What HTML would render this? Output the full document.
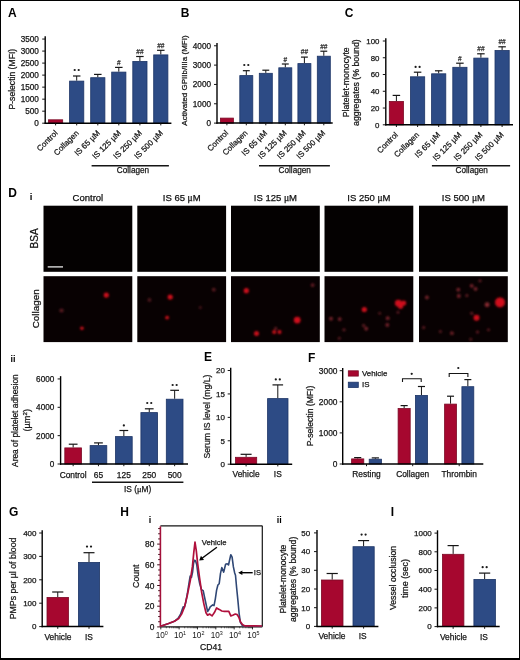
<!DOCTYPE html>
<html><head><meta charset="utf-8"><style>
html,body{margin:0;padding:0;background:#fff;}
svg{display:block;font-family:"Liberation Sans", sans-serif;}
</style></head><body>
<svg width="520" height="660" viewBox="0 0 520 660"><g opacity="0.999">
<text x="8.00" y="17.20" font-size="12" text-anchor="start" font-weight="bold" fill="#000">A</text>
<text x="180.80" y="17.20" font-size="12" text-anchor="start" font-weight="bold" fill="#000">B</text>
<text x="344.80" y="17.20" font-size="12" text-anchor="start" font-weight="bold" fill="#000">C</text>
<line x1="45.20" y1="36.26" x2="45.20" y2="123.90" stroke="#000" stroke-width="1.4"/>
<line x1="42.20" y1="123.20" x2="45.20" y2="123.20" stroke="#151515" stroke-width="1.0"/>
<text x="38.90" y="126.15" font-size="8.2" text-anchor="end" font-weight="normal" fill="#151515" stroke="#151515" stroke-width="0.25">0</text>
<line x1="42.20" y1="111.18" x2="45.20" y2="111.18" stroke="#151515" stroke-width="1.0"/>
<text x="38.90" y="114.13" font-size="8.2" text-anchor="end" font-weight="normal" fill="#151515" stroke="#151515" stroke-width="0.25">500</text>
<line x1="42.20" y1="99.16" x2="45.20" y2="99.16" stroke="#151515" stroke-width="1.0"/>
<text x="38.90" y="102.11" font-size="8.2" text-anchor="end" font-weight="normal" fill="#151515" stroke="#151515" stroke-width="0.25">1000</text>
<line x1="42.20" y1="87.14" x2="45.20" y2="87.14" stroke="#151515" stroke-width="1.0"/>
<text x="38.90" y="90.09" font-size="8.2" text-anchor="end" font-weight="normal" fill="#151515" stroke="#151515" stroke-width="0.25">1500</text>
<line x1="42.20" y1="75.12" x2="45.20" y2="75.12" stroke="#151515" stroke-width="1.0"/>
<text x="38.90" y="78.07" font-size="8.2" text-anchor="end" font-weight="normal" fill="#151515" stroke="#151515" stroke-width="0.25">2000</text>
<line x1="42.20" y1="63.10" x2="45.20" y2="63.10" stroke="#151515" stroke-width="1.0"/>
<text x="38.90" y="66.05" font-size="8.2" text-anchor="end" font-weight="normal" fill="#151515" stroke="#151515" stroke-width="0.25">2500</text>
<line x1="42.20" y1="51.08" x2="45.20" y2="51.08" stroke="#151515" stroke-width="1.0"/>
<text x="38.90" y="54.03" font-size="8.2" text-anchor="end" font-weight="normal" fill="#151515" stroke="#151515" stroke-width="0.25">3000</text>
<line x1="42.20" y1="39.06" x2="45.20" y2="39.06" stroke="#151515" stroke-width="1.0"/>
<text x="38.90" y="42.01" font-size="8.2" text-anchor="end" font-weight="normal" fill="#151515" stroke="#151515" stroke-width="0.25">3500</text>
<rect x="48.50" y="119.80" width="14.20" height="3.40" fill="#a6072f" stroke="#7c0a26" stroke-width="0.8"/>
<line x1="76.70" y1="80.70" x2="76.70" y2="76.00" stroke="#151515" stroke-width="1.0"/>
<line x1="72.95" y1="76.00" x2="80.45" y2="76.00" stroke="#151515" stroke-width="1.2"/>
<rect x="69.60" y="81.10" width="14.20" height="42.10" fill="#2d4b85" stroke="#1d3566" stroke-width="0.8"/>
<line x1="97.80" y1="77.30" x2="97.80" y2="74.40" stroke="#151515" stroke-width="1.0"/>
<line x1="94.05" y1="74.40" x2="101.55" y2="74.40" stroke="#151515" stroke-width="1.2"/>
<rect x="90.70" y="77.70" width="14.20" height="45.50" fill="#2d4b85" stroke="#1d3566" stroke-width="0.8"/>
<line x1="118.80" y1="71.70" x2="118.80" y2="67.40" stroke="#151515" stroke-width="1.0"/>
<line x1="115.05" y1="67.40" x2="122.55" y2="67.40" stroke="#151515" stroke-width="1.2"/>
<rect x="111.70" y="72.10" width="14.20" height="51.10" fill="#2d4b85" stroke="#1d3566" stroke-width="0.8"/>
<line x1="139.90" y1="61.00" x2="139.90" y2="56.50" stroke="#151515" stroke-width="1.0"/>
<line x1="136.15" y1="56.50" x2="143.65" y2="56.50" stroke="#151515" stroke-width="1.2"/>
<rect x="132.80" y="61.40" width="14.20" height="61.80" fill="#2d4b85" stroke="#1d3566" stroke-width="0.8"/>
<line x1="160.80" y1="54.50" x2="160.80" y2="50.30" stroke="#151515" stroke-width="1.0"/>
<line x1="157.05" y1="50.30" x2="164.55" y2="50.30" stroke="#151515" stroke-width="1.2"/>
<rect x="153.70" y="54.90" width="14.20" height="68.30" fill="#2d4b85" stroke="#1d3566" stroke-width="0.8"/>
<line x1="44.60" y1="123.20" x2="171.40" y2="123.20" stroke="#000" stroke-width="1.5"/>
<line x1="55.60" y1="123.20" x2="55.60" y2="125.40" stroke="#151515" stroke-width="1.0"/>
<line x1="76.70" y1="123.20" x2="76.70" y2="125.40" stroke="#151515" stroke-width="1.0"/>
<line x1="97.80" y1="123.20" x2="97.80" y2="125.40" stroke="#151515" stroke-width="1.0"/>
<line x1="118.80" y1="123.20" x2="118.80" y2="125.40" stroke="#151515" stroke-width="1.0"/>
<line x1="139.90" y1="123.20" x2="139.90" y2="125.40" stroke="#151515" stroke-width="1.0"/>
<line x1="160.80" y1="123.20" x2="160.80" y2="125.40" stroke="#151515" stroke-width="1.0"/>
<circle cx="74.70" cy="70.00" r="1.12" fill="#1a1a1a"/>
<circle cx="78.70" cy="70.00" r="1.12" fill="#1a1a1a"/>
<text x="118.80" y="65.48" font-size="6.5" text-anchor="middle" font-weight="normal" fill="#333" stroke="#333" stroke-width="0.25">#</text>
<text x="139.90" y="54.27" font-size="6.5" text-anchor="middle" font-weight="normal" fill="#333" stroke="#333" stroke-width="0.25">##</text>
<text x="160.80" y="47.98" font-size="6.5" text-anchor="middle" font-weight="normal" fill="#333" stroke="#333" stroke-width="0.25">##</text>
<text x="0.00" y="0.00" font-size="8.0" text-anchor="end" font-weight="normal" fill="#151515" stroke="#151515" stroke-width="0.25" transform="translate(58.20,133.60) rotate(-45)">Control</text>
<text x="0.00" y="0.00" font-size="8.0" text-anchor="end" font-weight="normal" fill="#151515" stroke="#151515" stroke-width="0.25" transform="translate(79.30,133.60) rotate(-45)">Collagen</text>
<text x="0.00" y="0.00" font-size="8.0" text-anchor="end" font-weight="normal" fill="#151515" stroke="#151515" stroke-width="0.25" transform="translate(100.40,133.60) rotate(-45)">IS 65 µM</text>
<text x="0.00" y="0.00" font-size="8.0" text-anchor="end" font-weight="normal" fill="#151515" stroke="#151515" stroke-width="0.25" transform="translate(121.40,133.60) rotate(-45)">IS 125 µM</text>
<text x="0.00" y="0.00" font-size="8.0" text-anchor="end" font-weight="normal" fill="#151515" stroke="#151515" stroke-width="0.25" transform="translate(142.50,133.60) rotate(-45)">IS 250 µM</text>
<text x="0.00" y="0.00" font-size="8.0" text-anchor="end" font-weight="normal" fill="#151515" stroke="#151515" stroke-width="0.25" transform="translate(163.40,133.60) rotate(-45)">IS 500 µM</text>
<line x1="91.60" y1="165.70" x2="168.90" y2="165.70" stroke="#151515" stroke-width="1.4"/>
<text x="133.00" y="173.30" font-size="8.2" text-anchor="middle" font-weight="normal" fill="#151515" stroke="#151515" stroke-width="0.25">Collagen</text>
<text x="0.00" y="0.00" font-size="8.6" text-anchor="middle" font-weight="normal" fill="#151515" stroke="#151515" stroke-width="0.25" transform="translate(14.70,79.20) rotate(-90)">P-selectin (MFI)</text>
<line x1="217.00" y1="42.98" x2="217.00" y2="123.80" stroke="#000" stroke-width="1.4"/>
<line x1="214.00" y1="123.10" x2="217.00" y2="123.10" stroke="#151515" stroke-width="1.0"/>
<text x="211.00" y="126.05" font-size="8.2" text-anchor="end" font-weight="normal" fill="#151515" stroke="#151515" stroke-width="0.25">0</text>
<line x1="214.00" y1="103.77" x2="217.00" y2="103.77" stroke="#151515" stroke-width="1.0"/>
<text x="211.00" y="106.72" font-size="8.2" text-anchor="end" font-weight="normal" fill="#151515" stroke="#151515" stroke-width="0.25">1000</text>
<line x1="214.00" y1="84.44" x2="217.00" y2="84.44" stroke="#151515" stroke-width="1.0"/>
<text x="211.00" y="87.39" font-size="8.2" text-anchor="end" font-weight="normal" fill="#151515" stroke="#151515" stroke-width="0.25">2000</text>
<line x1="214.00" y1="65.11" x2="217.00" y2="65.11" stroke="#151515" stroke-width="1.0"/>
<text x="211.00" y="68.06" font-size="8.2" text-anchor="end" font-weight="normal" fill="#151515" stroke="#151515" stroke-width="0.25">3000</text>
<line x1="214.00" y1="45.78" x2="217.00" y2="45.78" stroke="#151515" stroke-width="1.0"/>
<text x="211.00" y="48.73" font-size="8.2" text-anchor="end" font-weight="normal" fill="#151515" stroke="#151515" stroke-width="0.25">4000</text>
<rect x="220.40" y="118.10" width="13.00" height="5.00" fill="#a6072f" stroke="#7c0a26" stroke-width="0.8"/>
<line x1="246.30" y1="75.20" x2="246.30" y2="70.70" stroke="#151515" stroke-width="1.0"/>
<line x1="242.85" y1="70.70" x2="249.75" y2="70.70" stroke="#151515" stroke-width="1.2"/>
<rect x="239.80" y="75.60" width="13.00" height="47.50" fill="#2d4b85" stroke="#1d3566" stroke-width="0.8"/>
<line x1="265.80" y1="72.90" x2="265.80" y2="70.20" stroke="#151515" stroke-width="1.0"/>
<line x1="262.35" y1="70.20" x2="269.25" y2="70.20" stroke="#151515" stroke-width="1.2"/>
<rect x="259.30" y="73.30" width="13.00" height="49.80" fill="#2d4b85" stroke="#1d3566" stroke-width="0.8"/>
<line x1="285.30" y1="67.40" x2="285.30" y2="64.00" stroke="#151515" stroke-width="1.0"/>
<line x1="281.85" y1="64.00" x2="288.75" y2="64.00" stroke="#151515" stroke-width="1.2"/>
<rect x="278.80" y="67.80" width="13.00" height="55.30" fill="#2d4b85" stroke="#1d3566" stroke-width="0.8"/>
<line x1="304.40" y1="63.20" x2="304.40" y2="57.10" stroke="#151515" stroke-width="1.0"/>
<line x1="300.95" y1="57.10" x2="307.85" y2="57.10" stroke="#151515" stroke-width="1.2"/>
<rect x="297.90" y="63.60" width="13.00" height="59.50" fill="#2d4b85" stroke="#1d3566" stroke-width="0.8"/>
<line x1="323.80" y1="55.80" x2="323.80" y2="51.20" stroke="#151515" stroke-width="1.0"/>
<line x1="320.35" y1="51.20" x2="327.25" y2="51.20" stroke="#151515" stroke-width="1.2"/>
<rect x="317.30" y="56.20" width="13.00" height="66.90" fill="#2d4b85" stroke="#1d3566" stroke-width="0.8"/>
<line x1="216.40" y1="123.10" x2="332.70" y2="123.10" stroke="#000" stroke-width="1.5"/>
<line x1="226.90" y1="123.10" x2="226.90" y2="125.30" stroke="#151515" stroke-width="1.0"/>
<line x1="246.30" y1="123.10" x2="246.30" y2="125.30" stroke="#151515" stroke-width="1.0"/>
<line x1="265.80" y1="123.10" x2="265.80" y2="125.30" stroke="#151515" stroke-width="1.0"/>
<line x1="285.30" y1="123.10" x2="285.30" y2="125.30" stroke="#151515" stroke-width="1.0"/>
<line x1="304.40" y1="123.10" x2="304.40" y2="125.30" stroke="#151515" stroke-width="1.0"/>
<line x1="323.80" y1="123.10" x2="323.80" y2="125.30" stroke="#151515" stroke-width="1.0"/>
<circle cx="244.30" cy="65.00" r="1.12" fill="#1a1a1a"/>
<circle cx="248.30" cy="65.00" r="1.12" fill="#1a1a1a"/>
<text x="285.30" y="61.88" font-size="6.5" text-anchor="middle" font-weight="normal" fill="#333" stroke="#333" stroke-width="0.25">#</text>
<text x="304.40" y="54.48" font-size="6.5" text-anchor="middle" font-weight="normal" fill="#333" stroke="#333" stroke-width="0.25">##</text>
<text x="323.80" y="48.77" font-size="6.5" text-anchor="middle" font-weight="normal" fill="#333" stroke="#333" stroke-width="0.25">##</text>
<text x="0.00" y="0.00" font-size="8.0" text-anchor="end" font-weight="normal" fill="#151515" stroke="#151515" stroke-width="0.25" transform="translate(228.70,133.50) rotate(-45)">Control</text>
<text x="0.00" y="0.00" font-size="8.0" text-anchor="end" font-weight="normal" fill="#151515" stroke="#151515" stroke-width="0.25" transform="translate(248.10,133.50) rotate(-45)">Collagen</text>
<text x="0.00" y="0.00" font-size="8.0" text-anchor="end" font-weight="normal" fill="#151515" stroke="#151515" stroke-width="0.25" transform="translate(267.60,133.50) rotate(-45)">IS 65 µM</text>
<text x="0.00" y="0.00" font-size="8.0" text-anchor="end" font-weight="normal" fill="#151515" stroke="#151515" stroke-width="0.25" transform="translate(287.10,133.50) rotate(-45)">IS 125 µM</text>
<text x="0.00" y="0.00" font-size="8.0" text-anchor="end" font-weight="normal" fill="#151515" stroke="#151515" stroke-width="0.25" transform="translate(306.20,133.50) rotate(-45)">IS 250 µM</text>
<text x="0.00" y="0.00" font-size="8.0" text-anchor="end" font-weight="normal" fill="#151515" stroke="#151515" stroke-width="0.25" transform="translate(325.60,133.50) rotate(-45)">IS 500 µM</text>
<line x1="259.00" y1="165.70" x2="329.90" y2="165.70" stroke="#151515" stroke-width="1.4"/>
<text x="294.70" y="173.30" font-size="8.2" text-anchor="middle" font-weight="normal" fill="#151515" stroke="#151515" stroke-width="0.25">Collagen</text>
<text x="0.00" y="0.00" font-size="8.0" text-anchor="middle" font-weight="normal" fill="#151515" stroke="#151515" stroke-width="0.25" transform="translate(186.90,80.50) rotate(-90)">Activated GPIIb/IIIa (MFI)</text>
<line x1="385.80" y1="38.20" x2="385.80" y2="125.50" stroke="#000" stroke-width="1.4"/>
<line x1="382.80" y1="124.80" x2="385.80" y2="124.80" stroke="#151515" stroke-width="1.0"/>
<text x="379.50" y="127.64" font-size="7.9" text-anchor="end" font-weight="normal" fill="#151515" stroke="#151515" stroke-width="0.25">0</text>
<line x1="382.80" y1="108.04" x2="385.80" y2="108.04" stroke="#151515" stroke-width="1.0"/>
<text x="379.50" y="110.88" font-size="7.9" text-anchor="end" font-weight="normal" fill="#151515" stroke="#151515" stroke-width="0.25">20</text>
<line x1="382.80" y1="91.28" x2="385.80" y2="91.28" stroke="#151515" stroke-width="1.0"/>
<text x="379.50" y="94.12" font-size="7.9" text-anchor="end" font-weight="normal" fill="#151515" stroke="#151515" stroke-width="0.25">40</text>
<line x1="382.80" y1="74.52" x2="385.80" y2="74.52" stroke="#151515" stroke-width="1.0"/>
<text x="379.50" y="77.36" font-size="7.9" text-anchor="end" font-weight="normal" fill="#151515" stroke="#151515" stroke-width="0.25">60</text>
<line x1="382.80" y1="57.76" x2="385.80" y2="57.76" stroke="#151515" stroke-width="1.0"/>
<text x="379.50" y="60.60" font-size="7.9" text-anchor="end" font-weight="normal" fill="#151515" stroke="#151515" stroke-width="0.25">80</text>
<line x1="382.80" y1="41.00" x2="385.80" y2="41.00" stroke="#151515" stroke-width="1.0"/>
<text x="379.50" y="43.84" font-size="7.9" text-anchor="end" font-weight="normal" fill="#151515" stroke="#151515" stroke-width="0.25">100</text>
<line x1="396.40" y1="101.00" x2="396.40" y2="95.40" stroke="#151515" stroke-width="1.0"/>
<line x1="392.65" y1="95.40" x2="400.15" y2="95.40" stroke="#151515" stroke-width="1.2"/>
<rect x="389.30" y="101.40" width="14.20" height="23.40" fill="#a6072f" stroke="#7c0a26" stroke-width="0.8"/>
<line x1="417.60" y1="76.40" x2="417.60" y2="72.20" stroke="#151515" stroke-width="1.0"/>
<line x1="413.85" y1="72.20" x2="421.35" y2="72.20" stroke="#151515" stroke-width="1.2"/>
<rect x="410.50" y="76.80" width="14.20" height="48.00" fill="#2d4b85" stroke="#1d3566" stroke-width="0.8"/>
<line x1="438.70" y1="73.40" x2="438.70" y2="70.80" stroke="#151515" stroke-width="1.0"/>
<line x1="434.95" y1="70.80" x2="442.45" y2="70.80" stroke="#151515" stroke-width="1.2"/>
<rect x="431.60" y="73.80" width="14.20" height="51.00" fill="#2d4b85" stroke="#1d3566" stroke-width="0.8"/>
<line x1="459.90" y1="66.90" x2="459.90" y2="63.20" stroke="#151515" stroke-width="1.0"/>
<line x1="456.15" y1="63.20" x2="463.65" y2="63.20" stroke="#151515" stroke-width="1.2"/>
<rect x="452.80" y="67.30" width="14.20" height="57.50" fill="#2d4b85" stroke="#1d3566" stroke-width="0.8"/>
<line x1="480.90" y1="57.70" x2="480.90" y2="53.80" stroke="#151515" stroke-width="1.0"/>
<line x1="477.15" y1="53.80" x2="484.65" y2="53.80" stroke="#151515" stroke-width="1.2"/>
<rect x="473.80" y="58.10" width="14.20" height="66.70" fill="#2d4b85" stroke="#1d3566" stroke-width="0.8"/>
<line x1="502.10" y1="50.10" x2="502.10" y2="46.80" stroke="#151515" stroke-width="1.0"/>
<line x1="498.35" y1="46.80" x2="505.85" y2="46.80" stroke="#151515" stroke-width="1.2"/>
<rect x="495.00" y="50.50" width="14.20" height="74.30" fill="#2d4b85" stroke="#1d3566" stroke-width="0.8"/>
<line x1="385.20" y1="124.80" x2="513.00" y2="124.80" stroke="#000" stroke-width="1.5"/>
<line x1="396.40" y1="124.80" x2="396.40" y2="127.00" stroke="#151515" stroke-width="1.0"/>
<line x1="417.60" y1="124.80" x2="417.60" y2="127.00" stroke="#151515" stroke-width="1.0"/>
<line x1="438.70" y1="124.80" x2="438.70" y2="127.00" stroke="#151515" stroke-width="1.0"/>
<line x1="459.90" y1="124.80" x2="459.90" y2="127.00" stroke="#151515" stroke-width="1.0"/>
<line x1="480.90" y1="124.80" x2="480.90" y2="127.00" stroke="#151515" stroke-width="1.0"/>
<line x1="502.10" y1="124.80" x2="502.10" y2="127.00" stroke="#151515" stroke-width="1.0"/>
<circle cx="415.60" cy="66.90" r="1.12" fill="#1a1a1a"/>
<circle cx="419.60" cy="66.90" r="1.12" fill="#1a1a1a"/>
<text x="459.90" y="61.07" font-size="6.5" text-anchor="middle" font-weight="normal" fill="#333" stroke="#333" stroke-width="0.25">#</text>
<text x="480.90" y="51.48" font-size="6.5" text-anchor="middle" font-weight="normal" fill="#333" stroke="#333" stroke-width="0.25">##</text>
<text x="502.10" y="44.27" font-size="6.5" text-anchor="middle" font-weight="normal" fill="#333" stroke="#333" stroke-width="0.25">##</text>
<text x="0.00" y="0.00" font-size="8.0" text-anchor="end" font-weight="normal" fill="#151515" stroke="#151515" stroke-width="0.25" transform="translate(398.40,135.40) rotate(-45)">Control</text>
<text x="0.00" y="0.00" font-size="8.0" text-anchor="end" font-weight="normal" fill="#151515" stroke="#151515" stroke-width="0.25" transform="translate(419.60,135.40) rotate(-45)">Collagen</text>
<text x="0.00" y="0.00" font-size="8.0" text-anchor="end" font-weight="normal" fill="#151515" stroke="#151515" stroke-width="0.25" transform="translate(440.70,135.40) rotate(-45)">IS 65 µM</text>
<text x="0.00" y="0.00" font-size="8.0" text-anchor="end" font-weight="normal" fill="#151515" stroke="#151515" stroke-width="0.25" transform="translate(461.90,135.40) rotate(-45)">IS 125 µM</text>
<text x="0.00" y="0.00" font-size="8.0" text-anchor="end" font-weight="normal" fill="#151515" stroke="#151515" stroke-width="0.25" transform="translate(482.90,135.40) rotate(-45)">IS 250 µM</text>
<text x="0.00" y="0.00" font-size="8.0" text-anchor="end" font-weight="normal" fill="#151515" stroke="#151515" stroke-width="0.25" transform="translate(504.10,135.40) rotate(-45)">IS 500 µM</text>
<line x1="431.90" y1="165.70" x2="510.10" y2="165.70" stroke="#151515" stroke-width="1.4"/>
<text x="471.70" y="173.30" font-size="8.2" text-anchor="middle" font-weight="normal" fill="#151515" stroke="#151515" stroke-width="0.25">Collagen</text>
<text x="0.00" y="0.00" font-size="8.75" text-anchor="middle" font-weight="normal" fill="#151515" stroke="#151515" stroke-width="0.25" transform="translate(349.00,82.30) rotate(-90)">Platelet-monocyte</text>
<text x="0.00" y="0.00" font-size="8.75" text-anchor="middle" font-weight="normal" fill="#151515" stroke="#151515" stroke-width="0.25" transform="translate(359.00,82.60) rotate(-90)">aggregates (% bound)</text>
<text x="8.30" y="196.60" font-size="12" text-anchor="start" font-weight="bold" fill="#000">D</text>
<text x="29.80" y="200.30" font-size="9.5" text-anchor="start" font-weight="bold" fill="#000">i</text>
<defs><radialGradient id="dg"><stop offset="0" stop-color="#d8161e"/><stop offset="0.5" stop-color="#b00812"/><stop offset="1" stop-color="#400000" stop-opacity="0"/></radialGradient><radialGradient id="dd"><stop offset="0" stop-color="#8e3036"/><stop offset="0.45" stop-color="#5e1418"/><stop offset="1" stop-color="#200000" stop-opacity="0"/></radialGradient></defs>
<text x="87.90" y="200.80" font-size="9.5" text-anchor="middle" font-weight="normal" fill="#111" stroke="#111" stroke-width="0.25">Control</text>
<rect x="43.50" y="205.70" width="88.80" height="66.10" fill="#040001"/>
<rect x="43.50" y="276.20" width="88.80" height="65.90" fill="#080102"/>
<text x="181.70" y="200.80" font-size="9.5" text-anchor="middle" font-weight="normal" fill="#111" stroke="#111" stroke-width="0.25">IS 65 <tspan font-family="Liberation Serif">μ</tspan>M</text>
<rect x="137.30" y="205.70" width="88.80" height="66.10" fill="#040001"/>
<rect x="137.30" y="276.20" width="88.80" height="65.90" fill="#080102"/>
<text x="275.40" y="200.80" font-size="9.5" text-anchor="middle" font-weight="normal" fill="#111" stroke="#111" stroke-width="0.25">IS 125 <tspan font-family="Liberation Serif">μ</tspan>M</text>
<rect x="231.00" y="205.70" width="88.80" height="66.10" fill="#040001"/>
<rect x="231.00" y="276.20" width="88.80" height="65.90" fill="#080102"/>
<text x="368.90" y="200.80" font-size="9.5" text-anchor="middle" font-weight="normal" fill="#111" stroke="#111" stroke-width="0.25">IS 250 <tspan font-family="Liberation Serif">μ</tspan>M</text>
<rect x="324.50" y="205.70" width="88.80" height="66.10" fill="#040001"/>
<rect x="324.50" y="276.20" width="88.80" height="65.90" fill="#080102"/>
<text x="463.40" y="200.80" font-size="9.5" text-anchor="middle" font-weight="normal" fill="#111" stroke="#111" stroke-width="0.25">IS 500 <tspan font-family="Liberation Serif">μ</tspan>M</text>
<rect x="419.00" y="205.70" width="88.80" height="66.10" fill="#040001"/>
<rect x="419.00" y="276.20" width="88.80" height="65.90" fill="#080102"/>
<defs><filter id="gl" x="-10%" y="-10%" width="120%" height="120%"><feGaussianBlur stdDeviation="0.9"/></filter><clipPath id="tc"><rect x="43.5" y="276.2" width="464.5" height="65.9"/></clipPath></defs>
<g filter="url(#gl)" clip-path="url(#tc)">
<circle cx="106.3" cy="295.1" r="2.60" fill="#d0101c"/>
<circle cx="61.5" cy="310.5" r="2.09" fill="#8a2a32" opacity="0.63"/>
<circle cx="81.9" cy="328.3" r="1.80" fill="#d0101c"/>
<circle cx="170.2" cy="297" r="2.60" fill="#d0101c"/>
<circle cx="149.4" cy="299.9" r="1.90" fill="#8a2a32" opacity="0.56"/>
<circle cx="167.1" cy="317.6" r="1.90" fill="#d0101c"/>
<circle cx="213.8" cy="289.7" r="1.90" fill="#8a2a32" opacity="0.63"/>
<circle cx="200.3" cy="307.6" r="1.52" fill="#8a2a32" opacity="0.49"/>
<circle cx="246.3" cy="290.7" r="2.60" fill="#d0101c"/>
<circle cx="312.6" cy="285.1" r="1.90" fill="#8a2a32" opacity="0.70"/>
<circle cx="297.2" cy="320.1" r="3.40" fill="#d0101c"/>
<circle cx="256.5" cy="333.5" r="2.50" fill="#d0101c"/>
<circle cx="274.2" cy="332" r="2.00" fill="#d0101c"/>
<circle cx="279.5" cy="332" r="2.00" fill="#d0101c"/>
<circle cx="275.7" cy="328.3" r="1.42" fill="#8a2a32" opacity="0.84"/>
<circle cx="398.3" cy="303.2" r="3.40" fill="#d0101c"/>
<circle cx="403.6" cy="303.0" r="2.60" fill="#d0101c"/>
<circle cx="400.6" cy="306.2" r="2.60" fill="#d0101c"/>
<circle cx="364.3" cy="309.5" r="2.60" fill="#d0101c"/>
<circle cx="331" cy="318.7" r="1.90" fill="#8a2a32" opacity="0.84"/>
<circle cx="339.7" cy="319.1" r="1.90" fill="#8a2a32" opacity="0.84"/>
<circle cx="344" cy="329.7" r="1.52" fill="#8a2a32" opacity="0.70"/>
<circle cx="339.3" cy="338.3" r="1.52" fill="#8a2a32" opacity="0.63"/>
<circle cx="363.7" cy="325.5" r="1.52" fill="#8a2a32" opacity="0.77"/>
<circle cx="366.2" cy="328.7" r="1.90" fill="#8a2a32" opacity="0.84"/>
<circle cx="379.7" cy="313.3" r="1.42" fill="#8a2a32" opacity="0.63"/>
<circle cx="387.7" cy="318.2" r="1.90" fill="#8a2a32" opacity="0.84"/>
<circle cx="387.3" cy="324.9" r="1.90" fill="#8a2a32" opacity="0.84"/>
<circle cx="398" cy="312.4" r="1.42" fill="#8a2a32" opacity="0.70"/>
<circle cx="500" cy="302.4" r="5.00" fill="#d0101c"/>
<circle cx="476.5" cy="317.8" r="3.00" fill="#d0101c"/>
<circle cx="487.1" cy="304.7" r="2.47" fill="#8a2a32" opacity="0.98"/>
<circle cx="426.9" cy="297.4" r="1.90" fill="#8a2a32" opacity="0.84"/>
<circle cx="458.3" cy="289.7" r="1.90" fill="#8a2a32" opacity="0.84"/>
<circle cx="458.8" cy="296" r="1.90" fill="#8a2a32" opacity="0.84"/>
<circle cx="466.9" cy="295.5" r="1.52" fill="#8a2a32" opacity="0.70"/>
<circle cx="471.7" cy="285.8" r="1.90" fill="#8a2a32" opacity="0.84"/>
<circle cx="475.6" cy="288.9" r="1.90" fill="#8a2a32" opacity="0.84"/>
<circle cx="480" cy="280.7" r="1.52" fill="#8a2a32" opacity="0.70"/>
<circle cx="471.7" cy="313.3" r="1.52" fill="#8a2a32" opacity="0.77"/>
<circle cx="423.7" cy="327.4" r="1.52" fill="#8a2a32" opacity="0.70"/>
<circle cx="440.4" cy="331.6" r="1.52" fill="#8a2a32" opacity="0.63"/>
<circle cx="451.9" cy="333.2" r="1.90" fill="#8a2a32" opacity="0.77"/>
<circle cx="477.5" cy="332" r="1.52" fill="#8a2a32" opacity="0.70"/>
<circle cx="488.5" cy="329.7" r="1.52" fill="#8a2a32" opacity="0.63"/>
<circle cx="470.8" cy="339.3" r="1.52" fill="#8a2a32" opacity="0.63"/>
</g>
<line x1="47.70" y1="266.90" x2="63.00" y2="266.90" stroke="#e8e8e8" stroke-width="1.3"/>
<text x="0.00" y="0.00" font-size="10" text-anchor="middle" font-weight="normal" fill="#111" stroke="#111" stroke-width="0.25" transform="translate(38.20,238.40) rotate(-90)">BSA</text>
<text x="0.00" y="0.00" font-size="9.9" text-anchor="middle" font-weight="normal" fill="#111" stroke="#111" stroke-width="0.25" transform="translate(38.60,308.80) rotate(-90)">Collagen</text>
<text x="10.60" y="362.40" font-size="9.0" text-anchor="start" font-weight="bold" fill="#000">ii</text>
<line x1="60.60" y1="376.15" x2="60.60" y2="464.70" stroke="#000" stroke-width="1.4"/>
<line x1="57.60" y1="464.00" x2="60.60" y2="464.00" stroke="#151515" stroke-width="1.0"/>
<text x="54.30" y="466.95" font-size="8.2" text-anchor="end" font-weight="normal" fill="#151515" stroke="#151515" stroke-width="0.25">0</text>
<line x1="57.60" y1="435.65" x2="60.60" y2="435.65" stroke="#151515" stroke-width="1.0"/>
<text x="54.30" y="438.60" font-size="8.2" text-anchor="end" font-weight="normal" fill="#151515" stroke="#151515" stroke-width="0.25">2000</text>
<line x1="57.60" y1="407.30" x2="60.60" y2="407.30" stroke="#151515" stroke-width="1.0"/>
<text x="54.30" y="410.25" font-size="8.2" text-anchor="end" font-weight="normal" fill="#151515" stroke="#151515" stroke-width="0.25">4000</text>
<line x1="57.60" y1="378.95" x2="60.60" y2="378.95" stroke="#151515" stroke-width="1.0"/>
<text x="54.30" y="381.90" font-size="8.2" text-anchor="end" font-weight="normal" fill="#151515" stroke="#151515" stroke-width="0.25">6000</text>
<line x1="73.15" y1="447.50" x2="73.15" y2="444.20" stroke="#151515" stroke-width="1.0"/>
<line x1="68.78" y1="444.20" x2="77.53" y2="444.20" stroke="#151515" stroke-width="1.2"/>
<rect x="64.80" y="447.90" width="16.70" height="16.10" fill="#a6072f" stroke="#7c0a26" stroke-width="0.8"/>
<line x1="98.45" y1="445.20" x2="98.45" y2="442.90" stroke="#151515" stroke-width="1.0"/>
<line x1="94.08" y1="442.90" x2="102.83" y2="442.90" stroke="#151515" stroke-width="1.2"/>
<rect x="90.10" y="445.60" width="16.70" height="18.40" fill="#2d4b85" stroke="#1d3566" stroke-width="0.8"/>
<line x1="123.85" y1="436.20" x2="123.85" y2="430.50" stroke="#151515" stroke-width="1.0"/>
<line x1="119.47" y1="430.50" x2="128.22" y2="430.50" stroke="#151515" stroke-width="1.2"/>
<rect x="115.50" y="436.60" width="16.70" height="27.40" fill="#2d4b85" stroke="#1d3566" stroke-width="0.8"/>
<line x1="149.25" y1="412.20" x2="149.25" y2="408.80" stroke="#151515" stroke-width="1.0"/>
<line x1="144.88" y1="408.80" x2="153.62" y2="408.80" stroke="#151515" stroke-width="1.2"/>
<rect x="140.90" y="412.60" width="16.70" height="51.40" fill="#2d4b85" stroke="#1d3566" stroke-width="0.8"/>
<line x1="174.65" y1="398.80" x2="174.65" y2="390.30" stroke="#151515" stroke-width="1.0"/>
<line x1="170.28" y1="390.30" x2="179.03" y2="390.30" stroke="#151515" stroke-width="1.2"/>
<rect x="166.30" y="399.20" width="16.70" height="64.80" fill="#2d4b85" stroke="#1d3566" stroke-width="0.8"/>
<line x1="60.00" y1="464.00" x2="188.00" y2="464.00" stroke="#000" stroke-width="1.5"/>
<line x1="73.15" y1="464.00" x2="73.15" y2="466.20" stroke="#151515" stroke-width="1.0"/>
<line x1="98.45" y1="464.00" x2="98.45" y2="466.20" stroke="#151515" stroke-width="1.0"/>
<line x1="123.85" y1="464.00" x2="123.85" y2="466.20" stroke="#151515" stroke-width="1.0"/>
<line x1="149.25" y1="464.00" x2="149.25" y2="466.20" stroke="#151515" stroke-width="1.0"/>
<line x1="174.65" y1="464.00" x2="174.65" y2="466.20" stroke="#151515" stroke-width="1.0"/>
<circle cx="123.85" cy="425.40" r="1.12" fill="#1a1a1a"/>
<circle cx="147.25" cy="403.00" r="1.12" fill="#1a1a1a"/>
<circle cx="151.25" cy="403.00" r="1.12" fill="#1a1a1a"/>
<circle cx="172.65" cy="385.00" r="1.12" fill="#1a1a1a"/>
<circle cx="176.65" cy="385.00" r="1.12" fill="#1a1a1a"/>
<text x="73.15" y="478.00" font-size="8.4" text-anchor="middle" font-weight="normal" fill="#151515" stroke="#151515" stroke-width="0.25">Control</text>
<text x="98.45" y="478.00" font-size="8.4" text-anchor="middle" font-weight="normal" fill="#151515" stroke="#151515" stroke-width="0.25">65</text>
<text x="123.85" y="478.00" font-size="8.4" text-anchor="middle" font-weight="normal" fill="#151515" stroke="#151515" stroke-width="0.25">125</text>
<text x="149.25" y="478.00" font-size="8.4" text-anchor="middle" font-weight="normal" fill="#151515" stroke="#151515" stroke-width="0.25">250</text>
<text x="174.65" y="478.00" font-size="8.4" text-anchor="middle" font-weight="normal" fill="#151515" stroke="#151515" stroke-width="0.25">500</text>
<line x1="92.00" y1="482.20" x2="183.40" y2="482.20" stroke="#151515" stroke-width="1.4"/>
<text x="137.70" y="492.00" font-size="8.4" text-anchor="middle" font-weight="normal" fill="#151515" stroke="#151515" stroke-width="0.25">IS (<tspan font-family="Liberation Serif">μ</tspan>M)</text>
<text x="0.00" y="0.00" font-size="8.4" text-anchor="middle" font-weight="normal" fill="#151515" stroke="#151515" stroke-width="0.25" transform="translate(17.60,420.60) rotate(-90)">Area of platelet adhesion</text>
<text x="0.00" y="0.00" font-size="9.2" text-anchor="middle" font-weight="normal" fill="#151515" stroke="#151515" stroke-width="0.25" transform="translate(30.40,420.30) rotate(-90)">(µm<tspan font-size="6.2" dy="-3.4">2</tspan><tspan dy="3.4">)</tspan></text>
<text x="204.00" y="361.40" font-size="12" text-anchor="start" font-weight="bold" fill="#000">E</text>
<line x1="230.70" y1="367.72" x2="230.70" y2="464.90" stroke="#000" stroke-width="1.4"/>
<line x1="227.70" y1="464.20" x2="230.70" y2="464.20" stroke="#151515" stroke-width="1.0"/>
<text x="225.00" y="467.08" font-size="8.0" text-anchor="end" font-weight="normal" fill="#151515" stroke="#151515" stroke-width="0.25">0</text>
<line x1="227.70" y1="440.78" x2="230.70" y2="440.78" stroke="#151515" stroke-width="1.0"/>
<text x="225.00" y="443.66" font-size="8.0" text-anchor="end" font-weight="normal" fill="#151515" stroke="#151515" stroke-width="0.25">5</text>
<line x1="227.70" y1="417.36" x2="230.70" y2="417.36" stroke="#151515" stroke-width="1.0"/>
<text x="225.00" y="420.24" font-size="8.0" text-anchor="end" font-weight="normal" fill="#151515" stroke="#151515" stroke-width="0.25">10</text>
<line x1="227.70" y1="393.94" x2="230.70" y2="393.94" stroke="#151515" stroke-width="1.0"/>
<text x="225.00" y="396.82" font-size="8.0" text-anchor="end" font-weight="normal" fill="#151515" stroke="#151515" stroke-width="0.25">15</text>
<line x1="227.70" y1="370.52" x2="230.70" y2="370.52" stroke="#151515" stroke-width="1.0"/>
<text x="225.00" y="373.40" font-size="8.0" text-anchor="end" font-weight="normal" fill="#151515" stroke="#151515" stroke-width="0.25">20</text>
<line x1="246.10" y1="456.90" x2="246.10" y2="454.30" stroke="#151515" stroke-width="1.0"/>
<line x1="240.60" y1="454.30" x2="251.60" y2="454.30" stroke="#151515" stroke-width="1.2"/>
<rect x="235.50" y="457.30" width="21.20" height="6.90" fill="#a6072f" stroke="#7c0a26" stroke-width="0.8"/>
<line x1="277.80" y1="398.20" x2="277.80" y2="384.90" stroke="#151515" stroke-width="1.0"/>
<line x1="272.50" y1="384.90" x2="283.10" y2="384.90" stroke="#151515" stroke-width="1.2"/>
<rect x="267.60" y="398.60" width="20.40" height="65.60" fill="#2d4b85" stroke="#1d3566" stroke-width="0.8"/>
<line x1="230.10" y1="464.20" x2="292.20" y2="464.20" stroke="#000" stroke-width="1.5"/>
<line x1="246.10" y1="464.20" x2="246.10" y2="466.40" stroke="#151515" stroke-width="1.0"/>
<line x1="277.80" y1="464.20" x2="277.80" y2="466.40" stroke="#151515" stroke-width="1.0"/>
<text x="246.10" y="476.80" font-size="8.4" text-anchor="middle" font-weight="normal" fill="#151515" stroke="#151515" stroke-width="0.25">Vehicle</text>
<text x="277.80" y="476.80" font-size="8.4" text-anchor="middle" font-weight="normal" fill="#151515" stroke="#151515" stroke-width="0.25">IS</text>
<circle cx="275.80" cy="379.40" r="1.12" fill="#1a1a1a"/>
<circle cx="279.80" cy="379.40" r="1.12" fill="#1a1a1a"/>
<text x="0.00" y="0.00" font-size="8.7" text-anchor="middle" font-weight="normal" fill="#151515" stroke="#151515" stroke-width="0.25" transform="translate(209.60,416.60) rotate(-90)">Serum IS level (mg/L)</text>
<text x="308.00" y="362.30" font-size="12" text-anchor="start" font-weight="bold" fill="#000">F</text>
<line x1="342.70" y1="367.90" x2="342.70" y2="464.70" stroke="#000" stroke-width="1.4"/>
<line x1="339.70" y1="464.00" x2="342.70" y2="464.00" stroke="#151515" stroke-width="1.0"/>
<text x="337.50" y="467.02" font-size="8.4" text-anchor="end" font-weight="normal" fill="#151515" stroke="#151515" stroke-width="0.25">0</text>
<line x1="339.70" y1="432.90" x2="342.70" y2="432.90" stroke="#151515" stroke-width="1.0"/>
<text x="337.50" y="435.92" font-size="8.4" text-anchor="end" font-weight="normal" fill="#151515" stroke="#151515" stroke-width="0.25">1000</text>
<line x1="339.70" y1="401.80" x2="342.70" y2="401.80" stroke="#151515" stroke-width="1.0"/>
<text x="337.50" y="404.82" font-size="8.4" text-anchor="end" font-weight="normal" fill="#151515" stroke="#151515" stroke-width="0.25">2000</text>
<line x1="339.70" y1="370.70" x2="342.70" y2="370.70" stroke="#151515" stroke-width="1.0"/>
<text x="337.50" y="373.72" font-size="8.4" text-anchor="end" font-weight="normal" fill="#151515" stroke="#151515" stroke-width="0.25">3000</text>
<line x1="357.70" y1="458.50" x2="357.70" y2="457.60" stroke="#151515" stroke-width="1.0"/>
<line x1="354.12" y1="457.60" x2="361.27" y2="457.60" stroke="#151515" stroke-width="1.2"/>
<rect x="351.60" y="458.90" width="12.20" height="5.10" fill="#a6072f" stroke="#7c0a26" stroke-width="0.8"/>
<line x1="375.35" y1="458.80" x2="375.35" y2="457.90" stroke="#151515" stroke-width="1.0"/>
<line x1="371.75" y1="457.90" x2="378.95" y2="457.90" stroke="#151515" stroke-width="1.2"/>
<rect x="369.20" y="459.20" width="12.30" height="4.80" fill="#2d4b85" stroke="#1d3566" stroke-width="0.8"/>
<line x1="404.15" y1="408.10" x2="404.15" y2="405.60" stroke="#151515" stroke-width="1.0"/>
<line x1="400.60" y1="405.60" x2="407.70" y2="405.60" stroke="#151515" stroke-width="1.2"/>
<rect x="398.10" y="408.50" width="12.10" height="55.50" fill="#a6072f" stroke="#7c0a26" stroke-width="0.8"/>
<line x1="421.45" y1="395.00" x2="421.45" y2="386.50" stroke="#151515" stroke-width="1.0"/>
<line x1="417.90" y1="386.50" x2="425.00" y2="386.50" stroke="#151515" stroke-width="1.2"/>
<rect x="415.40" y="395.40" width="12.10" height="68.60" fill="#2d4b85" stroke="#1d3566" stroke-width="0.8"/>
<line x1="450.55" y1="403.70" x2="450.55" y2="396.20" stroke="#151515" stroke-width="1.0"/>
<line x1="447.06" y1="396.20" x2="454.04" y2="396.20" stroke="#151515" stroke-width="1.2"/>
<rect x="444.60" y="404.10" width="11.90" height="59.90" fill="#a6072f" stroke="#7c0a26" stroke-width="0.8"/>
<line x1="467.85" y1="386.30" x2="467.85" y2="379.60" stroke="#151515" stroke-width="1.0"/>
<line x1="464.36" y1="379.60" x2="471.34" y2="379.60" stroke="#151515" stroke-width="1.2"/>
<rect x="461.90" y="386.70" width="11.90" height="77.30" fill="#2d4b85" stroke="#1d3566" stroke-width="0.8"/>
<line x1="342.10" y1="464.00" x2="483.30" y2="464.00" stroke="#000" stroke-width="1.5"/>
<line x1="366.50" y1="464.00" x2="366.50" y2="466.20" stroke="#151515" stroke-width="1.0"/>
<line x1="412.70" y1="464.00" x2="412.70" y2="466.20" stroke="#151515" stroke-width="1.0"/>
<line x1="459.20" y1="464.00" x2="459.20" y2="466.20" stroke="#151515" stroke-width="1.0"/>
<text x="366.50" y="477.30" font-size="8.4" text-anchor="middle" font-weight="normal" fill="#151515" stroke="#151515" stroke-width="0.25">Resting</text>
<text x="412.70" y="477.30" font-size="8.4" text-anchor="middle" font-weight="normal" fill="#151515" stroke="#151515" stroke-width="0.25">Collagen</text>
<text x="459.20" y="477.30" font-size="8.4" text-anchor="middle" font-weight="normal" fill="#151515" stroke="#151515" stroke-width="0.25">Thrombin</text>
<path d="M402.5,382.1 V378.7 H421.2 V382.1" fill="none" stroke="#151515" stroke-width="1.1"/>
<circle cx="411.70" cy="373.80" r="1.12" fill="#1a1a1a"/>
<path d="M449.2,377.0 V373.5 H467.9 V377.0" fill="none" stroke="#151515" stroke-width="1.1"/>
<circle cx="458.30" cy="368.00" r="1.12" fill="#1a1a1a"/>
<rect x="348.30" y="370.80" width="10.00" height="5.30" fill="#a6072f" stroke="#7c0a26" stroke-width="0.8"/>
<rect x="348.30" y="382.20" width="10.00" height="5.30" fill="#2d4b85" stroke="#1d3566" stroke-width="0.8"/>
<text x="362.00" y="375.90" font-size="7.9" text-anchor="start" font-weight="normal" fill="#151515" stroke="#151515" stroke-width="0.25">Vehicle</text>
<text x="362.00" y="387.00" font-size="7.9" text-anchor="start" font-weight="normal" fill="#151515" stroke="#151515" stroke-width="0.25">IS</text>
<text x="0.00" y="0.00" font-size="8.6" text-anchor="middle" font-weight="normal" fill="#151515" stroke="#151515" stroke-width="0.25" transform="translate(313.00,416.00) rotate(-90)">P-selectin (MFI)</text>
<text x="9.00" y="516.40" font-size="12" text-anchor="start" font-weight="bold" fill="#000">G</text>
<line x1="42.20" y1="530.20" x2="42.20" y2="627.30" stroke="#000" stroke-width="1.4"/>
<line x1="39.20" y1="626.60" x2="42.20" y2="626.60" stroke="#151515" stroke-width="1.0"/>
<text x="36.50" y="629.48" font-size="8.0" text-anchor="end" font-weight="normal" fill="#151515" stroke="#151515" stroke-width="0.25">0</text>
<line x1="39.20" y1="603.20" x2="42.20" y2="603.20" stroke="#151515" stroke-width="1.0"/>
<text x="36.50" y="606.08" font-size="8.0" text-anchor="end" font-weight="normal" fill="#151515" stroke="#151515" stroke-width="0.25">100</text>
<line x1="39.20" y1="579.80" x2="42.20" y2="579.80" stroke="#151515" stroke-width="1.0"/>
<text x="36.50" y="582.68" font-size="8.0" text-anchor="end" font-weight="normal" fill="#151515" stroke="#151515" stroke-width="0.25">200</text>
<line x1="39.20" y1="556.40" x2="42.20" y2="556.40" stroke="#151515" stroke-width="1.0"/>
<text x="36.50" y="559.28" font-size="8.0" text-anchor="end" font-weight="normal" fill="#151515" stroke="#151515" stroke-width="0.25">300</text>
<line x1="39.20" y1="533.00" x2="42.20" y2="533.00" stroke="#151515" stroke-width="1.0"/>
<text x="36.50" y="535.88" font-size="8.0" text-anchor="end" font-weight="normal" fill="#151515" stroke="#151515" stroke-width="0.25">400</text>
<line x1="57.75" y1="597.00" x2="57.75" y2="592.00" stroke="#151515" stroke-width="1.0"/>
<line x1="52.17" y1="592.00" x2="63.33" y2="592.00" stroke="#151515" stroke-width="1.2"/>
<rect x="47.00" y="597.40" width="21.50" height="29.20" fill="#a6072f" stroke="#7c0a26" stroke-width="0.8"/>
<line x1="89.00" y1="562.00" x2="89.00" y2="552.70" stroke="#151515" stroke-width="1.0"/>
<line x1="83.50" y1="552.70" x2="94.50" y2="552.70" stroke="#151515" stroke-width="1.2"/>
<rect x="78.40" y="562.40" width="21.20" height="64.20" fill="#2d4b85" stroke="#1d3566" stroke-width="0.8"/>
<line x1="41.60" y1="626.60" x2="103.40" y2="626.60" stroke="#000" stroke-width="1.5"/>
<line x1="57.75" y1="626.60" x2="57.75" y2="628.80" stroke="#151515" stroke-width="1.0"/>
<line x1="89.00" y1="626.60" x2="89.00" y2="628.80" stroke="#151515" stroke-width="1.0"/>
<text x="58.00" y="639.80" font-size="8.4" text-anchor="middle" font-weight="normal" fill="#151515" stroke="#151515" stroke-width="0.25">Vehicle</text>
<text x="89.00" y="639.80" font-size="8.4" text-anchor="middle" font-weight="normal" fill="#151515" stroke="#151515" stroke-width="0.25">IS</text>
<circle cx="87.00" cy="546.60" r="1.12" fill="#1a1a1a"/>
<circle cx="91.00" cy="546.60" r="1.12" fill="#1a1a1a"/>
<text x="0.00" y="0.00" font-size="8.8" text-anchor="middle" font-weight="normal" fill="#151515" stroke="#151515" stroke-width="0.25" transform="translate(16.00,578.40) rotate(-90)">PMPs per µl of blood</text>
<text x="120.20" y="516.30" font-size="12" text-anchor="start" font-weight="bold" fill="#000">H</text>
<text x="148.80" y="522.70" font-size="9.0" text-anchor="start" font-weight="bold" fill="#000">i</text>
<line x1="160.40" y1="525.80" x2="262.30" y2="525.80" stroke="#151515" stroke-width="1.2"/>
<line x1="262.30" y1="525.80" x2="262.30" y2="626.80" stroke="#151515" stroke-width="1.2"/>
<line x1="160.40" y1="626.80" x2="262.30" y2="626.80" stroke="#151515" stroke-width="1.2"/>
<line x1="157.20" y1="626.90" x2="160.40" y2="626.90" stroke="#3a1018" stroke-width="1.0"/>
<line x1="158.20" y1="621.73" x2="160.40" y2="621.73" stroke="#3a1018" stroke-width="1.0"/>
<line x1="158.20" y1="616.55" x2="160.40" y2="616.55" stroke="#3a1018" stroke-width="1.0"/>
<line x1="158.20" y1="611.38" x2="160.40" y2="611.38" stroke="#3a1018" stroke-width="1.0"/>
<line x1="157.20" y1="606.20" x2="160.40" y2="606.20" stroke="#3a1018" stroke-width="1.0"/>
<line x1="158.20" y1="601.02" x2="160.40" y2="601.02" stroke="#3a1018" stroke-width="1.0"/>
<line x1="158.20" y1="595.85" x2="160.40" y2="595.85" stroke="#3a1018" stroke-width="1.0"/>
<line x1="158.20" y1="590.67" x2="160.40" y2="590.67" stroke="#3a1018" stroke-width="1.0"/>
<line x1="157.20" y1="585.50" x2="160.40" y2="585.50" stroke="#3a1018" stroke-width="1.0"/>
<line x1="158.20" y1="580.32" x2="160.40" y2="580.32" stroke="#3a1018" stroke-width="1.0"/>
<line x1="158.20" y1="575.15" x2="160.40" y2="575.15" stroke="#3a1018" stroke-width="1.0"/>
<line x1="158.20" y1="569.98" x2="160.40" y2="569.98" stroke="#3a1018" stroke-width="1.0"/>
<line x1="157.20" y1="564.80" x2="160.40" y2="564.80" stroke="#3a1018" stroke-width="1.0"/>
<line x1="158.20" y1="559.62" x2="160.40" y2="559.62" stroke="#3a1018" stroke-width="1.0"/>
<line x1="158.20" y1="554.45" x2="160.40" y2="554.45" stroke="#3a1018" stroke-width="1.0"/>
<line x1="158.20" y1="549.27" x2="160.40" y2="549.27" stroke="#3a1018" stroke-width="1.0"/>
<line x1="157.20" y1="544.10" x2="160.40" y2="544.10" stroke="#3a1018" stroke-width="1.0"/>
<line x1="158.20" y1="538.92" x2="160.40" y2="538.92" stroke="#3a1018" stroke-width="1.0"/>
<line x1="158.20" y1="533.75" x2="160.40" y2="533.75" stroke="#3a1018" stroke-width="1.0"/>
<line x1="158.20" y1="528.57" x2="160.40" y2="528.57" stroke="#3a1018" stroke-width="1.0"/>
<text x="154.40" y="629.90" font-size="8.4" text-anchor="end" font-weight="normal" fill="#151515" stroke="#151515" stroke-width="0.25">0</text>
<text x="154.40" y="609.20" font-size="8.4" text-anchor="end" font-weight="normal" fill="#151515" stroke="#151515" stroke-width="0.25">20</text>
<text x="154.40" y="588.50" font-size="8.4" text-anchor="end" font-weight="normal" fill="#151515" stroke="#151515" stroke-width="0.25">40</text>
<text x="154.40" y="567.80" font-size="8.4" text-anchor="end" font-weight="normal" fill="#151515" stroke="#151515" stroke-width="0.25">60</text>
<text x="154.40" y="547.10" font-size="8.4" text-anchor="end" font-weight="normal" fill="#151515" stroke="#151515" stroke-width="0.25">80</text>
<line x1="160.80" y1="626.80" x2="160.80" y2="629.40" stroke="#151515" stroke-width="0.9"/>
<line x1="166.32" y1="626.80" x2="166.32" y2="628.30" stroke="#151515" stroke-width="0.6"/>
<line x1="169.55" y1="626.80" x2="169.55" y2="628.30" stroke="#151515" stroke-width="0.6"/>
<line x1="171.84" y1="626.80" x2="171.84" y2="628.30" stroke="#151515" stroke-width="0.6"/>
<line x1="173.62" y1="626.80" x2="173.62" y2="628.30" stroke="#151515" stroke-width="0.6"/>
<line x1="175.07" y1="626.80" x2="175.07" y2="628.30" stroke="#151515" stroke-width="0.6"/>
<line x1="176.30" y1="626.80" x2="176.30" y2="628.30" stroke="#151515" stroke-width="0.6"/>
<line x1="177.36" y1="626.80" x2="177.36" y2="628.30" stroke="#151515" stroke-width="0.6"/>
<line x1="178.30" y1="626.80" x2="178.30" y2="628.30" stroke="#151515" stroke-width="0.6"/>
<line x1="179.14" y1="626.80" x2="179.14" y2="629.40" stroke="#151515" stroke-width="0.9"/>
<line x1="184.66" y1="626.80" x2="184.66" y2="628.30" stroke="#151515" stroke-width="0.6"/>
<line x1="187.89" y1="626.80" x2="187.89" y2="628.30" stroke="#151515" stroke-width="0.6"/>
<line x1="190.18" y1="626.80" x2="190.18" y2="628.30" stroke="#151515" stroke-width="0.6"/>
<line x1="191.96" y1="626.80" x2="191.96" y2="628.30" stroke="#151515" stroke-width="0.6"/>
<line x1="193.41" y1="626.80" x2="193.41" y2="628.30" stroke="#151515" stroke-width="0.6"/>
<line x1="194.64" y1="626.80" x2="194.64" y2="628.30" stroke="#151515" stroke-width="0.6"/>
<line x1="195.70" y1="626.80" x2="195.70" y2="628.30" stroke="#151515" stroke-width="0.6"/>
<line x1="196.64" y1="626.80" x2="196.64" y2="628.30" stroke="#151515" stroke-width="0.6"/>
<line x1="197.48" y1="626.80" x2="197.48" y2="629.40" stroke="#151515" stroke-width="0.9"/>
<line x1="203.00" y1="626.80" x2="203.00" y2="628.30" stroke="#151515" stroke-width="0.6"/>
<line x1="206.23" y1="626.80" x2="206.23" y2="628.30" stroke="#151515" stroke-width="0.6"/>
<line x1="208.52" y1="626.80" x2="208.52" y2="628.30" stroke="#151515" stroke-width="0.6"/>
<line x1="210.30" y1="626.80" x2="210.30" y2="628.30" stroke="#151515" stroke-width="0.6"/>
<line x1="211.75" y1="626.80" x2="211.75" y2="628.30" stroke="#151515" stroke-width="0.6"/>
<line x1="212.98" y1="626.80" x2="212.98" y2="628.30" stroke="#151515" stroke-width="0.6"/>
<line x1="214.04" y1="626.80" x2="214.04" y2="628.30" stroke="#151515" stroke-width="0.6"/>
<line x1="214.98" y1="626.80" x2="214.98" y2="628.30" stroke="#151515" stroke-width="0.6"/>
<line x1="215.82" y1="626.80" x2="215.82" y2="629.40" stroke="#151515" stroke-width="0.9"/>
<line x1="221.34" y1="626.80" x2="221.34" y2="628.30" stroke="#151515" stroke-width="0.6"/>
<line x1="224.57" y1="626.80" x2="224.57" y2="628.30" stroke="#151515" stroke-width="0.6"/>
<line x1="226.86" y1="626.80" x2="226.86" y2="628.30" stroke="#151515" stroke-width="0.6"/>
<line x1="228.64" y1="626.80" x2="228.64" y2="628.30" stroke="#151515" stroke-width="0.6"/>
<line x1="230.09" y1="626.80" x2="230.09" y2="628.30" stroke="#151515" stroke-width="0.6"/>
<line x1="231.32" y1="626.80" x2="231.32" y2="628.30" stroke="#151515" stroke-width="0.6"/>
<line x1="232.38" y1="626.80" x2="232.38" y2="628.30" stroke="#151515" stroke-width="0.6"/>
<line x1="233.32" y1="626.80" x2="233.32" y2="628.30" stroke="#151515" stroke-width="0.6"/>
<line x1="234.16" y1="626.80" x2="234.16" y2="629.40" stroke="#151515" stroke-width="0.9"/>
<line x1="239.68" y1="626.80" x2="239.68" y2="628.30" stroke="#151515" stroke-width="0.6"/>
<line x1="242.91" y1="626.80" x2="242.91" y2="628.30" stroke="#151515" stroke-width="0.6"/>
<line x1="245.20" y1="626.80" x2="245.20" y2="628.30" stroke="#151515" stroke-width="0.6"/>
<line x1="246.98" y1="626.80" x2="246.98" y2="628.30" stroke="#151515" stroke-width="0.6"/>
<line x1="248.43" y1="626.80" x2="248.43" y2="628.30" stroke="#151515" stroke-width="0.6"/>
<line x1="249.66" y1="626.80" x2="249.66" y2="628.30" stroke="#151515" stroke-width="0.6"/>
<line x1="250.72" y1="626.80" x2="250.72" y2="628.30" stroke="#151515" stroke-width="0.6"/>
<line x1="251.66" y1="626.80" x2="251.66" y2="628.30" stroke="#151515" stroke-width="0.6"/>
<line x1="252.50" y1="626.80" x2="252.50" y2="629.40" stroke="#151515" stroke-width="0.9"/>
<text x="161.70" y="638.3" font-size="8.2" text-anchor="middle" fill="#151515">10<tspan font-size="5.4" dy="-3.3">0</tspan></text>
<text x="180.04" y="638.3" font-size="8.2" text-anchor="middle" fill="#151515">10<tspan font-size="5.4" dy="-3.3">1</tspan></text>
<text x="198.38" y="638.3" font-size="8.2" text-anchor="middle" fill="#151515">10<tspan font-size="5.4" dy="-3.3">2</tspan></text>
<text x="216.72" y="638.3" font-size="8.2" text-anchor="middle" fill="#151515">10<tspan font-size="5.4" dy="-3.3">3</tspan></text>
<text x="235.06" y="638.3" font-size="8.2" text-anchor="middle" fill="#151515">10<tspan font-size="5.4" dy="-3.3">4</tspan></text>
<text x="253.40" y="638.3" font-size="8.2" text-anchor="middle" fill="#151515">10<tspan font-size="5.4" dy="-3.3">5</tspan></text>
<text x="211.10" y="649.60" font-size="8.6" text-anchor="middle" font-weight="normal" fill="#151515" stroke="#151515" stroke-width="0.25">CD41</text>
<text x="0.00" y="0.00" font-size="8.8" text-anchor="middle" font-weight="normal" fill="#151515" stroke="#151515" stroke-width="0.25" transform="translate(139.20,576.20) rotate(-90)">Count</text>
<polyline points="160.60,626.30 168.60,623.50 174.40,621.30 178.00,618.50 180.50,614.50 182.20,609.50 183.20,606.80 184.30,607.50 185.60,603.00 187.30,594.00 189.00,583.00 190.20,576.00 191.40,577.50 192.60,572.00 193.60,563.00 194.50,560.20 195.60,561.00 196.70,564.50 198.10,575.30 199.80,584.00 201.50,589.70 203.20,590.60 204.50,597.00 205.80,603.00 207.60,611.50 208.80,609.80 210.20,606.90 212.70,604.90 214.00,605.60 215.30,599.10 216.60,590.10 217.90,585.00 219.20,583.70 220.50,573.40 221.80,567.60 223.70,572.10 225.60,564.30 227.20,563.70 228.50,565.00 229.50,560.50 230.80,554.70 232.10,557.20 233.40,566.90 234.60,572.70 235.50,575.30 236.60,587.50 237.90,600.40 239.10,613.30 240.40,622.30 242.40,625.50 245.00,626.20 262.00,626.20" fill="none" stroke="#2f4775" stroke-width="1.6" stroke-linejoin="round"/>
<polyline points="160.60,626.30 168.60,623.50 174.40,621.30 178.70,618.50 181.60,614.10 184.50,606.90 187.30,595.40 190.20,581.00 192.40,566.70 193.80,552.30 195.00,542.20 196.30,550.80 197.70,563.80 199.60,578.20 201.70,592.60 203.90,604.10 206.00,612.70 207.60,615.20 209.50,614.00 212.10,615.90 214.70,612.00 216.60,607.90 219.20,609.40 221.80,611.00 224.30,611.40 228.80,611.40 230.80,615.90 232.70,615.20 235.30,614.00 237.20,614.60 238.80,617.20 240.40,621.70 242.40,624.60 245.00,625.90 262.00,626.00" fill="none" stroke="#b0103c" stroke-width="1.7" stroke-linejoin="round"/>
<line x1="160.40" y1="526.30" x2="160.40" y2="626.80" stroke="#a3103a" stroke-width="1.6"/>
<text x="214.20" y="544.50" font-size="7.7" text-anchor="middle" font-weight="normal" fill="#151515" stroke="#151515" stroke-width="0.25">Vehicle</text>
<line x1="216.90" y1="547.30" x2="201.00" y2="559.00" stroke="#000" stroke-width="1.4"/>
<polygon points="199.2,560.4 201.0,555.8 204.0,559.9" fill="#000"/>
<line x1="252.70" y1="572.70" x2="240.50" y2="572.70" stroke="#000" stroke-width="1.4"/>
<polygon points="238.2,572.7 242.4,570.4 242.4,575.0" fill="#000"/>
<text x="253.80" y="575.40" font-size="7.6" text-anchor="start" font-weight="normal" fill="#151515" stroke="#151515" stroke-width="0.25">IS</text>
<text x="276.80" y="522.60" font-size="9.0" text-anchor="start" font-weight="bold" fill="#000">ii</text>
<line x1="317.00" y1="530.10" x2="317.00" y2="627.10" stroke="#000" stroke-width="1.4"/>
<line x1="314.00" y1="626.40" x2="317.00" y2="626.40" stroke="#151515" stroke-width="1.0"/>
<text x="310.20" y="629.28" font-size="8.0" text-anchor="end" font-weight="normal" fill="#151515" stroke="#151515" stroke-width="0.25">0</text>
<line x1="314.00" y1="607.70" x2="317.00" y2="607.70" stroke="#151515" stroke-width="1.0"/>
<text x="310.20" y="610.58" font-size="8.0" text-anchor="end" font-weight="normal" fill="#151515" stroke="#151515" stroke-width="0.25">10</text>
<line x1="314.00" y1="589.00" x2="317.00" y2="589.00" stroke="#151515" stroke-width="1.0"/>
<text x="310.20" y="591.88" font-size="8.0" text-anchor="end" font-weight="normal" fill="#151515" stroke="#151515" stroke-width="0.25">20</text>
<line x1="314.00" y1="570.30" x2="317.00" y2="570.30" stroke="#151515" stroke-width="1.0"/>
<text x="310.20" y="573.18" font-size="8.0" text-anchor="end" font-weight="normal" fill="#151515" stroke="#151515" stroke-width="0.25">30</text>
<line x1="314.00" y1="551.60" x2="317.00" y2="551.60" stroke="#151515" stroke-width="1.0"/>
<text x="310.20" y="554.48" font-size="8.0" text-anchor="end" font-weight="normal" fill="#151515" stroke="#151515" stroke-width="0.25">40</text>
<line x1="314.00" y1="532.90" x2="317.00" y2="532.90" stroke="#151515" stroke-width="1.0"/>
<text x="310.20" y="535.78" font-size="8.0" text-anchor="end" font-weight="normal" fill="#151515" stroke="#151515" stroke-width="0.25">50</text>
<line x1="332.20" y1="579.60" x2="332.20" y2="573.50" stroke="#151515" stroke-width="1.0"/>
<line x1="326.60" y1="573.50" x2="337.80" y2="573.50" stroke="#151515" stroke-width="1.2"/>
<rect x="321.40" y="580.00" width="21.60" height="46.40" fill="#a6072f" stroke="#7c0a26" stroke-width="0.8"/>
<line x1="363.60" y1="546.30" x2="363.60" y2="540.60" stroke="#151515" stroke-width="1.0"/>
<line x1="358.10" y1="540.60" x2="369.10" y2="540.60" stroke="#151515" stroke-width="1.2"/>
<rect x="353.00" y="546.70" width="21.20" height="79.70" fill="#2d4b85" stroke="#1d3566" stroke-width="0.8"/>
<line x1="316.40" y1="626.40" x2="378.40" y2="626.40" stroke="#000" stroke-width="1.5"/>
<line x1="332.20" y1="626.40" x2="332.20" y2="628.60" stroke="#151515" stroke-width="1.0"/>
<line x1="363.60" y1="626.40" x2="363.60" y2="628.60" stroke="#151515" stroke-width="1.0"/>
<text x="332.00" y="639.40" font-size="8.4" text-anchor="middle" font-weight="normal" fill="#151515" stroke="#151515" stroke-width="0.25">Vehicle</text>
<text x="362.70" y="639.40" font-size="8.4" text-anchor="middle" font-weight="normal" fill="#151515" stroke="#151515" stroke-width="0.25">IS</text>
<circle cx="361.60" cy="534.60" r="1.12" fill="#1a1a1a"/>
<circle cx="365.60" cy="534.60" r="1.12" fill="#1a1a1a"/>
<text x="0.00" y="0.00" font-size="8.65" text-anchor="middle" font-weight="normal" fill="#151515" stroke="#151515" stroke-width="0.25" transform="translate(285.50,579.10) rotate(-90)">Platelet-monocyte</text>
<text x="0.00" y="0.00" font-size="8.65" text-anchor="middle" font-weight="normal" fill="#151515" stroke="#151515" stroke-width="0.25" transform="translate(295.50,579.40) rotate(-90)">aggregates (% bound)</text>
<text x="390.80" y="515.50" font-size="12" text-anchor="start" font-weight="bold" fill="#000">I</text>
<line x1="437.50" y1="530.30" x2="437.50" y2="627.30" stroke="#000" stroke-width="1.4"/>
<line x1="434.50" y1="626.60" x2="437.50" y2="626.60" stroke="#151515" stroke-width="1.0"/>
<text x="431.80" y="629.48" font-size="8.0" text-anchor="end" font-weight="normal" fill="#151515" stroke="#151515" stroke-width="0.25">0</text>
<line x1="434.50" y1="607.90" x2="437.50" y2="607.90" stroke="#151515" stroke-width="1.0"/>
<text x="431.80" y="610.78" font-size="8.0" text-anchor="end" font-weight="normal" fill="#151515" stroke="#151515" stroke-width="0.25">200</text>
<line x1="434.50" y1="589.20" x2="437.50" y2="589.20" stroke="#151515" stroke-width="1.0"/>
<text x="431.80" y="592.08" font-size="8.0" text-anchor="end" font-weight="normal" fill="#151515" stroke="#151515" stroke-width="0.25">400</text>
<line x1="434.50" y1="570.50" x2="437.50" y2="570.50" stroke="#151515" stroke-width="1.0"/>
<text x="431.80" y="573.38" font-size="8.0" text-anchor="end" font-weight="normal" fill="#151515" stroke="#151515" stroke-width="0.25">600</text>
<line x1="434.50" y1="551.80" x2="437.50" y2="551.80" stroke="#151515" stroke-width="1.0"/>
<text x="431.80" y="554.68" font-size="8.0" text-anchor="end" font-weight="normal" fill="#151515" stroke="#151515" stroke-width="0.25">800</text>
<line x1="434.50" y1="533.10" x2="437.50" y2="533.10" stroke="#151515" stroke-width="1.0"/>
<text x="431.80" y="535.98" font-size="8.0" text-anchor="end" font-weight="normal" fill="#151515" stroke="#151515" stroke-width="0.25">1000</text>
<line x1="453.15" y1="553.90" x2="453.15" y2="545.60" stroke="#151515" stroke-width="1.0"/>
<line x1="447.57" y1="545.60" x2="458.72" y2="545.60" stroke="#151515" stroke-width="1.2"/>
<rect x="442.40" y="554.30" width="21.50" height="72.30" fill="#a6072f" stroke="#7c0a26" stroke-width="0.8"/>
<line x1="484.65" y1="579.00" x2="484.65" y2="573.10" stroke="#151515" stroke-width="1.0"/>
<line x1="479.07" y1="573.10" x2="490.22" y2="573.10" stroke="#151515" stroke-width="1.2"/>
<rect x="473.90" y="579.40" width="21.50" height="47.20" fill="#2d4b85" stroke="#1d3566" stroke-width="0.8"/>
<line x1="436.90" y1="626.60" x2="499.70" y2="626.60" stroke="#000" stroke-width="1.5"/>
<line x1="453.15" y1="626.60" x2="453.15" y2="628.80" stroke="#151515" stroke-width="1.0"/>
<line x1="484.65" y1="626.60" x2="484.65" y2="628.80" stroke="#151515" stroke-width="1.0"/>
<text x="453.50" y="639.70" font-size="8.4" text-anchor="middle" font-weight="normal" fill="#151515" stroke="#151515" stroke-width="0.25">Vehicle</text>
<text x="484.00" y="639.70" font-size="8.4" text-anchor="middle" font-weight="normal" fill="#151515" stroke="#151515" stroke-width="0.25">IS</text>
<circle cx="482.65" cy="567.20" r="1.12" fill="#1a1a1a"/>
<circle cx="486.65" cy="567.20" r="1.12" fill="#1a1a1a"/>
<text x="0.00" y="0.00" font-size="8.7" text-anchor="middle" font-weight="normal" fill="#151515" stroke="#151515" stroke-width="0.25" transform="translate(395.60,578.00) rotate(-90)">Vessel occlusion</text>
<text x="0.00" y="0.00" font-size="8.9" text-anchor="middle" font-weight="normal" fill="#151515" stroke="#151515" stroke-width="0.25" transform="translate(407.60,578.60) rotate(-90)">time (sec)</text>
<rect x="0.5" y="0.5" width="519" height="658" fill="none" stroke="#000" stroke-width="1"/>
<rect x="0" y="658" width="520" height="2" fill="#000"/>
</g></svg>
</body></html>
